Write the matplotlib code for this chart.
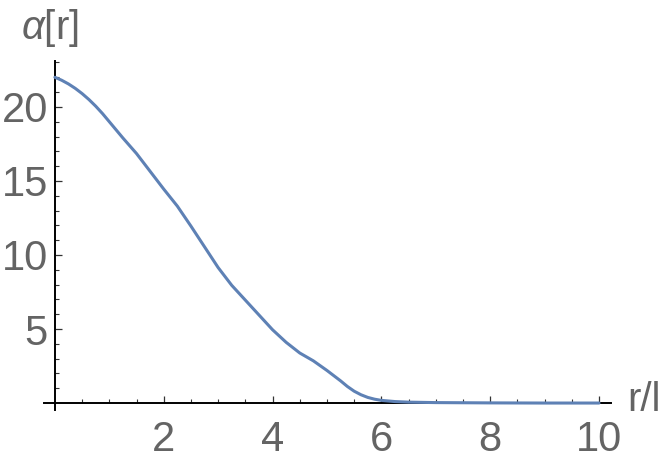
import matplotlib
matplotlib.use("Agg")
import matplotlib.pyplot as plt
from matplotlib.ticker import FixedLocator

plt.rcParams['font.family'] = ['Liberation Sans', 'DejaVu Sans']
plt.rcParams['mathtext.fontset'] = 'custom'
plt.rcParams['mathtext.rm'] = 'Liberation Sans'
plt.rcParams['mathtext.it'] = 'Liberation Sans:italic'

# data
r_vals = [0.0, 0.125, 0.25, 0.375, 0.5, 0.625, 0.75, 0.875, 1.0, 1.25, 1.5,
          1.75, 2.0, 2.25, 2.5, 2.75, 3.0, 3.25, 3.5, 3.75, 4.0, 4.25, 4.5,
          4.75, 5.0, 5.25, 5.375, 5.5, 5.625, 5.75, 5.875, 6.0, 6.25, 6.5,
          7.0, 8.0, 9.0, 10.0]
alpha_vals = [22.0, 21.8, 21.55, 21.25, 20.9, 20.5, 20.05, 19.55, 19.0,
              17.9, 16.85, 15.65, 14.45, 13.3, 11.95, 10.55, 9.15, 7.95,
              6.95, 5.95, 4.95, 4.1, 3.38, 2.85, 2.2, 1.5, 1.12, 0.8, 0.56,
              0.38, 0.26, 0.18, 0.1, 0.06, 0.03, 0.01, 0.0, 0.0]
x_major = [2, 4, 6, 8, 10]
x_minor = [0.5, 1, 1.5, 2.5, 3, 3.5, 4.5, 5, 5.5, 6.5, 7, 7.5, 8.5, 9, 9.5]
y_major = [5, 10, 15, 20]
y_minor = [1, 2, 3, 4, 6, 7, 8, 9, 11, 12, 13, 14, 16, 17, 18, 19, 21, 22, 23]
x_label = "r/l"
y_label = r"$\alpha$[r]"

W, H = 664, 461
fig = plt.figure(figsize=(W / 100, H / 100), dpi=100)
ax = fig.add_axes([44 / W, 1 - 410 / H, (611 - 44) / W, (410 - 61) / H])

ax.plot(r_vals, alpha_vals, color='#5E81B5', lw=2.2, solid_capstyle='round',
        solid_joinstyle='round', zorder=3, clip_on=False)

ax.set_xlim(-0.2, 10.22)
ax.set_ylim(-0.47, 23.1)

for s in ['top', 'right']:
    ax.spines[s].set_visible(False)
ax.spines['left'].set_position(('data', 0))
ax.spines['bottom'].set_position(('data', 0))
for s in ['left', 'bottom']:
    ax.spines[s].set_linewidth(1.4)
    ax.spines[s].set_color('black')

ax.xaxis.set_major_locator(FixedLocator(x_major))
ax.xaxis.set_minor_locator(FixedLocator(x_minor))
ax.yaxis.set_major_locator(FixedLocator(y_major))
ax.yaxis.set_minor_locator(FixedLocator(y_minor))
ax.set_xticklabels([str(v) for v in x_major])
ax.set_yticklabels([str(v) for v in y_major])

tick_col = '#333333'
lab_col = '#646464'
ax.tick_params(which='major', direction='in', length=5, width=0.9,
               color=tick_col, labelsize=30, labelcolor=lab_col)
ax.tick_params(which='minor', direction='in', length=3, width=0.8,
               color=tick_col)
ax.tick_params(axis='x', which='major', pad=12)
ax.tick_params(axis='y', which='major', pad=5)

fig.text(21 / W, 1 - 28 / H, y_label, ha='left', va='center', fontsize=29,
         color=lab_col)
fig.text(627 / W, 1 - 400 / H, x_label, ha='left', va='center', fontsize=29,
         color=lab_col)

fig.savefig('out.png', dpi=100)
